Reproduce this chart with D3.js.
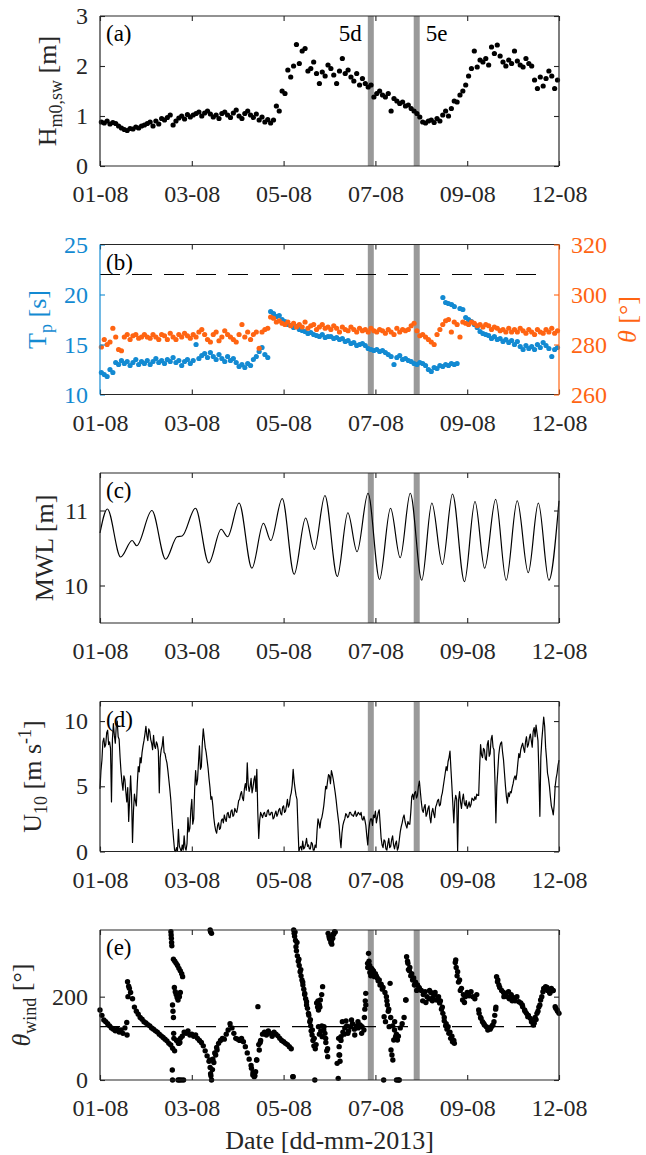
<!DOCTYPE html>
<meta charset="utf-8">
<script src="https://d3js.org/d3.v7.min.js"></script>
<style>
  body { margin: 0; background: #fff; }
  svg text { font-family: "Liberation Serif", "Times New Roman", Times, "DejaVu Serif", serif; }
</style>
<div id="chart"></div>
<script>
// x is in days after 01-08 (as labelled on the original axis)
var tickDays = [0, 2, 4, 6, 8, 10];
var tickLabels = ["01-08", "03-08", "05-08", "07-08", "09-08", "12-08"];
var eventDays = [5.9, 6.9];
var eventNames = ["5d", "5e"];
var dashedEnd = 9.72;

// (a) significant swell wave height, every 1.5 h
var hsStart = 0.03, hsStep = 1 / 16;
var hs = [
  0.88, 0.86, 0.90, 0.84, 0.87, 0.85, 0.80, 0.76, 0.73, 0.71, 0.75, 0.74, 0.78, 0.76, 0.80, 0.82,
  0.85, 0.88, 0.80, 0.90, 0.84, 0.95, 0.92, 0.97, 1.02, 0.82, 0.90, 0.96, 1.00, 0.94, 1.03, 0.98,
  1.02, 1.05, 1.08, 1.00, 1.06, 1.10, 1.04, 0.98, 1.02, 0.95, 1.05, 1.08, 1.02, 0.97, 1.06, 1.12,
  1.00, 0.95, 1.05, 1.10, 1.02, 0.97, 1.04, 0.92, 0.98, 0.88, 0.93, 0.86, 0.92, 1.20, 1.10, 1.50,
  1.45, 1.92, 1.78, 2.00, 2.43, 2.05, 2.30, 2.35, 1.90, 1.95, 2.08, 1.85, 1.65, 1.88, 1.80, 2.02,
  1.95, 1.82, 1.65, 1.90, 2.15, 1.85, 1.92, 1.78, 1.70, 1.85, 1.62, 1.75, 1.65, 1.58, 1.62, 1.38,
  1.45, 1.50, 1.42, 1.38, 1.45, 1.10, 1.35, 1.30, 1.25, 1.28, 1.20, 1.22, 1.15, 1.10, 1.05, 0.98,
  0.88, 0.86, 0.90, 0.92, 0.87, 0.95, 0.90, 1.02, 1.10, 1.00, 1.15, 1.30, 1.28, 1.42, 1.50, 1.62,
  1.80, 1.95, 2.30, 1.98, 2.12, 2.08, 2.15, 2.02, 2.38, 2.25, 2.42, 2.20, 2.08, 2.00, 2.12, 2.05,
  2.30, 2.10, 2.02, 1.98, 2.15, 2.05, 2.00, 1.72, 1.55, 1.78, 1.60, 1.75, 1.90, 1.80, 1.55, 1.72
];

// (b) peak period and mean direction, same sampling as hs
var tp = [
  12.2, 12.0, 11.8, 12.5, 12.2, 13.2, 13.0, 13.4, 13.1, 13.3, 12.9, 13.2, 13.5, 13.0, 13.3, 13.1,
  13.4, 13.0, 13.3, 13.6, 13.2, 13.4, 13.1, 13.5, 13.3, 13.7, 13.2, 13.4, 12.9, 13.3, 13.5, 13.1,
  13.4, 15.0, 13.6, 13.9, 14.1, 13.7, 14.2, 13.8, 13.5, 14.0, 13.6, 13.3, 13.8, 13.4, 13.6, 13.2,
  12.8, 13.0, 12.7, 13.1, 12.9, 13.5, 13.8, 14.3, 14.7, 14.0, 13.7, 18.3, 18.1, 17.8, 17.9, 17.5,
  17.3, 17.0, 16.9, 16.7, 16.8, 16.5, 16.4, 16.3, 16.1, 16.2, 16.0, 15.9, 15.8, 16.0, 15.7, 15.8,
  15.8, 15.6, 15.7, 15.5, 15.6, 15.3, 15.4, 15.1, 15.2, 14.9, 15.0, 15.1, 14.9, 14.6, 14.5, 14.4,
  14.5, 14.3, 14.4, 14.2, 14.0, 13.8, 13.0, 13.7, 13.9, 13.5, 13.6, 13.4, 13.3, 13.1, 13.0, 13.2,
  13.1, 12.9, 12.5, 12.3, 12.7, 12.6, 12.9, 12.8, 13.0, 12.9, 13.1, 13.0, 13.1, 18.6, 18.5, 17.7,
  17.5, 17.3, 17.0, 16.7, 16.3, 16.1, 16.0, 15.9, 15.6, 15.8, 15.5, 15.6, 15.3, 15.5, 15.2, 15.4,
  15.0, 15.3, 14.8, 14.5, 14.9, 14.6, 14.8, 14.5, 15.0, 14.7, 15.2, 14.9, 14.6, 13.8, 14.5, 14.7
];
// second (swell) branch of Tp, overlapping the low branch
var tpHiDays = [7.47, 7.53, 7.59, 7.66, 7.72];
var tpHi = [19.7, 19.2, 19.1, 19.0, 18.8];

var theta = [
  279, 282, 280, 281, 286.5, 283, 278, 277.5, 283, 284, 282, 283.5, 284, 282.5, 283, 284,
  283, 282.5, 284, 283, 282, 284, 283.5, 282, 284.5, 283, 282, 284, 283, 284.5, 283.5, 282.5,
  284, 283, 285, 286, 284, 282, 281, 284, 285, 281.5, 283, 285.5, 284, 283, 282, 281,
  284, 288, 283, 285, 282, 284, 285, 278.5, 285, 286, 286.5, 291, 290.5, 289, 289.5, 288.5,
  288, 289, 287.5, 288.5, 287, 288, 287, 289, 286.5, 287.5, 288, 286, 287, 288, 286.5, 287,
  286, 287.5, 286.5, 285, 287, 286, 285.5, 287, 286, 285, 286.5, 285.5, 286, 285, 286.5, 285.5,
  285, 286, 285.5, 284.5, 286, 285, 284, 286.5, 285, 286, 285.5, 286, 287.5, 288.5, 285.5, 283.5,
  284, 283, 282, 281, 280, 284, 286, 288, 289.5, 290, 285, 289, 288, 283, 289, 288.5,
  288, 289, 288.5, 287.5, 288, 287, 288, 287.5, 286, 287, 286.5, 285.5, 286, 285, 286.5, 285,
  286, 285, 286.5, 285.5, 284.5, 286, 285, 284, 286, 285, 284.5, 286, 285, 286.5, 284.5, 285.5
];
var tpRef = 22;

// (c) mean water level, turning points of the tide
var mwlDays = [0, 0.16, 0.45, 0.70, 0.80, 1.13, 1.43, 1.68, 1.79, 2.08, 2.37, 2.64, 2.78, 3.03, 3.31,
  3.56, 3.72, 3.97, 4.23, 4.48, 4.67, 4.90, 5.17, 5.40, 5.60, 5.84, 6.09, 6.33, 6.54, 6.76, 7.01,
  7.23, 7.46, 7.68, 7.94, 8.17, 8.38, 8.62, 8.85, 9.09, 9.33, 9.55, 9.78, 10.0];
var mwl = [10.70, 11.02, 10.38, 10.60, 10.53, 11.00, 10.35, 10.65, 10.66, 11.03, 10.30, 10.75, 10.65,
  11.10, 10.23, 10.83, 10.60, 11.16, 10.15, 10.90, 10.48, 11.20, 10.12, 10.97, 10.45, 11.23, 10.08,
  11.03, 10.37, 11.23, 10.07, 11.10, 10.28, 11.22, 10.05, 11.12, 10.23, 11.15, 10.07, 11.13, 10.17,
  11.10, 10.07, 11.13];

// (d) wind speed, every 30 min
var windStep = 1 / 24;
var uStep = 1 / 48;
var u10 = [
  4.8, 6.2, 7.0, 8.4, 8.7, 8.0, 8.2, 9.1, 9.3, 8.2, 8.4, 7.9, 3.8, 8.6, 9.8, 8.9, 8.3, 9.6, 10.0, 8.8, 8.6, 7.2, 6.1, 5.3,
  4.7, 5.8, 5.5, 4.6, 3.8, 4.9, 2.3, 4.0, 5.8, 4.2, 0.7, 3.1, 4.4, 3.9, 3.5, 5.2, 6.5, 6.1, 7.2, 6.8, 7.6, 8.1, 8.5, 9.0,
  9.6, 8.9, 8.5, 9.4, 9.2, 8.6, 8.3, 7.8, 8.9, 8.1, 7.9, 8.4, 8.2, 7.7, 4.5, 7.2, 7.8, 8.1, 8.8, 7.6, 7.5, 7.1, 6.8, 6.2,
  5.5, 4.8, 4.0, 2.9, 1.8, 0.9, 0.1, 0.0, 0.3, 0.0, 1.7, 0.4, 0.2, 0.0, 0.5, 0.1, 1.2, 0.3, 0.1, 0.6, 2.6, 1.5, 1.8, 3.2,
  4.0, 2.1, 2.5, 4.8, 6.2, 5.1, 5.5, 6.8, 8.1, 6.3, 6.5, 8.3, 9.4, 8.7, 8.0, 7.6, 7.0, 6.4, 5.6, 4.9, 4.0, 4.2, 3.5, 2.6,
  2.0, 1.6, 1.4, 2.0, 2.2, 1.7, 1.8, 2.4, 2.5, 2.2, 2.8, 2.5, 2.3, 2.9, 3.0, 2.6, 2.6, 3.1, 3.2, 2.7, 2.8, 3.3, 3.1, 3.0,
  3.4, 3.9, 4.0, 4.4, 4.6, 4.1, 3.9, 4.8, 5.2, 4.7, 6.8, 5.1, 4.6, 5.0, 5.6, 4.5, 4.9, 5.5, 5.8, 4.6, 6.3, 3.0, 1.0, 2.4,
  3.0, 2.8, 2.6, 2.9, 3.0, 2.7, 2.7, 3.1, 3.2, 2.8, 2.8, 3.0, 3.0, 2.5, 2.6, 2.9, 3.1, 2.7, 2.9, 3.2, 3.3, 2.9, 2.8, 3.4,
  3.5, 3.0, 3.1, 3.5, 4.0, 3.4, 3.6, 4.2, 4.5, 5.1, 6.3, 5.4, 4.8, 4.3, 4.0, 1.9, 0.0, 0.3, 0.4, 0.1, 0.8, 0.2, 0.3, 0.6,
  1.0, 0.4, 0.5, 0.2, 0.2, 0.7, 0.6, 0.1, 0.1, 0.5, 0.3, 1.6, 2.5, 2.2, 1.8, 2.4, 2.6, 3.0, 3.5, 4.2, 5.0, 4.8, 5.4, 5.9,
  5.8, 5.2, 6.2, 5.9, 5.5, 5.0, 4.5, 3.9, 3.2, 2.6, 2.0, 1.0, 0.3, 1.4, 2.0, 2.3, 2.5, 2.9, 2.8, 2.6, 2.7, 3.0, 3.0, 2.8,
  2.8, 2.7, 2.9, 3.1, 2.7, 2.8, 3.0, 2.9, 2.8, 3.0, 2.5, 2.4, 2.7, 2.4, 2.0, 1.2, 0.5, 1.6, 2.2, 2.5, 2.5, 2.0, 2.8, 2.6,
  3.1, 2.2, 2.6, 3.0, 3.2, 2.1, 1.0, 0.5, 0.3, 0.9, 0.8, 0.2, 0.1, 0.6, 1.0, 0.3, 0.4, 0.9, 1.2, 0.5, 0.2, 0.6, 0.8, 0.1,
  0.3, 0.9, 1.5, 1.9, 2.2, 2.6, 2.8, 2.3, 2.0, 1.8, 2.3, 2.1, 2.1, 3.0, 4.2, 4.4, 4.0, 4.5, 4.6, 4.1, 4.3, 5.0, 5.4, 4.6,
  3.8, 3.2, 3.0, 3.4, 3.6, 2.7, 2.9, 3.3, 3.5, 2.6, 2.2, 3.0, 3.3, 2.9, 2.6, 3.4, 3.6, 3.9, 4.0, 3.5, 3.6, 4.2, 4.5, 5.0,
  5.5, 6.0, 6.5, 6.2, 6.9, 7.2, 7.7, 6.3, 5.0, 3.6, 2.2, 3.8, 4.3, 4.0, 0.0, 3.9, 4.6, 3.8, 3.3, 4.0, 4.4, 3.7, 3.5, 3.9,
  3.3, 3.5, 3.8, 3.4, 3.6, 4.1, 4.0, 3.9, 4.2, 4.0, 4.4, 4.3, 4.3, 6.5, 8.2, 7.4, 7.2, 7.9, 7.8, 7.1, 7.0, 8.2, 8.5, 7.3,
  7.5, 8.6, 8.9, 8.0, 7.8, 5.5, 2.2, 5.0, 6.2, 7.4, 8.0, 8.3, 8.4, 7.6, 7.0, 6.0, 5.0, 4.2, 3.7, 4.5, 4.2, 4.6, 4.5, 4.9,
  5.2, 5.6, 5.8, 5.5, 6.0, 6.8, 7.5, 7.2, 7.8, 8.1, 8.3, 7.9, 7.6, 8.4, 8.8, 8.0, 8.2, 8.7, 9.0, 8.5, 8.0, 9.2, 9.5, 8.8,
  9.7, 9.1, 8.5, 6.0, 2.7, 7.2, 8.5, 9.4, 10.3, 9.6, 8.0, 7.1, 6.0, 5.6, 5.0, 4.2, 3.5, 3.2, 2.8, 3.6, 5.0, 5.6, 6.0, 6.6,
  7.0
];

// (e) wind direction, hourly plus the extra samples where it swings fast
var thetaWind = [
  168, 155, 144, 140, 135, 130, 125, 122, 118, 122, 115, 120, 112, 125, 138, 225, 210, 195, 175, 165, 158, 150, 146, 140,
  137, 133, 130, 125, 122, 118, 115, 110, 106, 102, 98, 94, 88, 84, 76, 70, 95, 88, 100, 105, 115, 112, 118, 108,
  110, 105, 108, 100, 95, 90, 82, 70, 58, 45, 10, 50, 65, 78, 88, 95, 100, 98, 110, 120, 135, 125, 112, 100,
  98, 95, 100, 92, 80, 65, 50, 35, 18, 10, 48, 85, 95, 110, 115, 108, 118, 112, 105, 115, 110, 106, 100, 95,
  92, 88, 85, 80, 75, 8, 355, 330, 290, 265, 235, 205, 180, 160, 145, 120, 100, 85, 190, 175, 130, 120, 100, 75,
  340, 335, 350, 355, 40, 60, 95, 115, 125, 130, 118, 128, 135, 122, 130, 125, 132, 128, 120, 180, 270, 275, 268, 262,
  255, 245, 240, 230, 222, 210, 190, 170, 150, 130, 120, 110, 105, 125, 135, 150, 192, 280, 270, 255, 245, 235, 228, 220,
  215, 205, 212, 200, 195, 210, 198, 205, 192, 200, 190, 175, 150, 135, 128, 115, 105, 95, 288, 260, 240, 220, 205, 200,
  210, 202, 212, 200, 195, 205, 168, 150, 140, 132, 128, 125, 122, 130, 140, 175, 240, 222, 215, 210, 205, 200, 195, 205,
  198, 190, 200, 188, 185, 176, 168, 160, 155, 148, 140, 136, 145, 165, 180, 200, 220, 224, 215, 212, 220, 215, 176, 168,
  160
];
var extraWindDays = [
  0.59, 0.60, 0.61, 0.64,
  1.545, 1.55, 1.555, 1.56, 1.565, 1.60, 1.63, 1.66, 1.69, 1.72, 1.75, 1.78, 1.80,
  1.62, 1.64, 1.66, 1.68, 1.70, 1.73, 1.75, 1.58, 1.59, 1.60, 1.605, 1.61,
  1.575, 1.58, 1.70, 1.73, 1.77, 1.82, 1.72, 1.74,
  2.40, 2.41, 2.43, 2.39, 2.40, 2.41, 2.43, 2.45, 2.48, 2.52, 2.55,
  3.30, 3.33, 3.36, 3.39, 3.41, 3.44, 3.47, 3.49,
  4.20, 4.22, 4.23, 4.24, 4.26, 4.27, 4.28, 4.30, 4.32, 4.34, 4.36, 4.38, 4.40, 4.42, 4.44, 4.46, 4.48,
  4.50, 4.52, 4.55, 4.57, 4.59, 4.60, 4.62, 4.64, 4.66, 4.68, 4.69, 4.72, 4.74, 4.76, 4.78, 4.80, 4.85,
  4.83, 4.76, 4.78, 4.81, 4.84, 4.88, 4.90, 4.92, 4.94, 4.96, 4.97, 4.99, 5.01, 5.03, 5.05, 5.07, 5.09, 5.11,
  5.19, 5.20, 5.21, 5.22, 5.23, 5.25, 5.28, 5.32, 5.36, 5.40, 5.48, 5.55, 5.62, 5.70,
  5.76, 5.77, 5.78, 5.79, 5.85, 5.83, 5.86, 5.88, 5.90, 5.93, 5.96, 5.98,
  6.02, 6.06, 6.10, 6.15, 6.18, 6.19, 6.22, 6.24, 6.26, 6.28, 6.30, 6.32, 6.34, 6.36, 6.38, 6.40, 6.42,
  6.44, 6.46, 6.50, 6.52, 6.48,
  6.66, 6.68, 6.70, 6.72, 6.74, 6.77, 6.81, 6.85, 6.90, 6.95,
  7.03, 7.10, 7.18, 7.24, 7.30, 7.36, 7.40, 7.44, 7.47, 7.50, 7.53, 7.56, 7.60, 7.64, 7.68, 7.72,
  7.74, 7.76, 7.78, 7.81, 7.85, 7.90, 7.94,
  8.26, 8.30, 8.36, 8.45, 8.52, 8.56, 8.60, 8.62, 8.64, 8.66, 8.69, 8.80, 8.90, 8.98,
  9.20, 9.26, 9.32, 9.40, 9.44, 9.45, 9.48, 9.52, 9.56, 9.60, 9.65, 9.74, 9.80, 9.86, 9.93, 9.97
];
var extraWind = [
  108, 236, 200, 220,
  356, 348, 340, 330, 322, 290, 285, 280, 275, 268, 262, 255, 248,
  222, 212, 205, 198, 192, 200, 210, 180, 165, 150, 112, 100,
  24, 0, 0, 0, 0, 0, 88, 90,
  360, 356, 352, 48, 30, 15, 0, 25, 42, 60, 72,
  28, 12, 8, 20, 48, 176, 72, 90,
  8, 360, 352, 345, 335, 320, 310, 298, 285, 275, 260, 250, 240, 228, 218, 208, 195,
  188, 172, 155, 140, 130, 118, 108, 95, 82, 0, 75, 185, 175, 168, 180, 192, 224,
  205, 128, 110, 118, 104, 128, 112, 90, 70, 56, 352, 345, 338, 330, 326, 340, 350, 356,
  4, 100, 80, 60, 45, 104, 140, 110, 142, 112, 144, 108, 140, 112,
  150, 170, 190, 208, 304, 280, 285, 258, 250, 265, 255, 248,
  250, 238, 228, 218, 0, 152, 140, 200, 180, 165, 128, 232, 72, 60, 48, 96, 140,
  104, 0, 0, 0, 96,
  192, 296, 285, 265, 262, 250, 240, 228, 215, 222,
  190, 186, 215, 190, 210, 195, 185, 170, 160, 142, 130, 122, 112, 100, 92, 88,
  282, 270, 250, 235, 215, 192, 186,
  160, 148, 136, 120, 126, 132, 155, 170, 248, 236, 228, 200, 212, 190,
  180, 165, 152, 140, 132, 138, 150, 160, 175, 192, 212, 222, 208, 214, 172, 165
];
var windRef = 128;

// ---------------------------------------------------------------
var W = 646, H = 1155;
var left = 100, right = 559, ph = 150;
var tops = [16, 244.5, 473, 701.5, 930];
var ink = "#262626", blue = "#138ad2", orange = "#ff6412", gray = "#999999";
var serif = '"Liberation Serif", "Times New Roman", Times, "DejaVu Serif", serif';

var svg = d3.select("#chart").append("svg").attr("width", W).attr("height", H);
var x = d3.scaleLinear().domain([0, 10]).range([left, right]);

function styleAxis(sel, color, keepText) {
  sel.attr("font-family", null);
  sel.select(".domain").remove();
  sel.selectAll(".tick line").attr("stroke", color).attr("stroke-width", 1.1);
  if (keepText) {
    sel.selectAll(".tick text").attr("fill", color).attr("font-size", 24).style("font-family", serif);
  } else {
    sel.selectAll(".tick text").remove();
  }
}

function yLabel(xPos, cy, parts, color) {
  var t = svg.append("text")
    .attr("transform", "translate(" + xPos + "," + cy + ") rotate(-90)")
    .attr("text-anchor", "middle")
    .style("font-family", serif)
    .attr("font-size", 26)
    .attr("fill", color)
    .style("white-space", "pre");
  var cur = 0;
  parts.forEach(function (p) {
    var shift = p.sub ? 6 : (p.sup ? -10 : 0);
    t.append("tspan")
      .attr("dy", shift - cur)
      .attr("font-size", (p.sub || p.sup) ? 18 : 26)
      .attr("font-style", p.it ? "italic" : null)
      .text(p.s);
    cur = shift;
  });
}

var fmt = d3.format("d");

// build one panel frame; returns layers and y scale
function panel(k, domain, ticks, name, leftColor, rightColor) {
  var top = tops[k], bottom = top + ph;
  var y = d3.scaleLinear().domain(domain).range([bottom, top]);
  var g = svg.append("g");

  g.selectAll("rect.event").data(eventDays).join("rect")
    .attr("class", "event")
    .attr("x", function (d) { return x(d) - 3; })
    .attr("width", 6)
    .attr("y", top)
    .attr("height", ph)
    .attr("fill", gray);

  var marks = g.append("g");
  var frame = g.append("g");

  frame.append("g").attr("transform", "translate(0," + bottom + ")")
    .call(d3.axisBottom(x).tickValues(tickDays).tickFormat(function (d, i) { return tickLabels[i]; })
      .tickSizeInner(-5).tickSizeOuter(0).tickPadding(19))
    .call(styleAxis, ink, true);
  frame.append("g").attr("transform", "translate(0," + top + ")")
    .call(d3.axisTop(x).tickValues(tickDays).tickSizeInner(-5).tickSizeOuter(0))
    .call(styleAxis, ink, false);
  frame.append("g").attr("transform", "translate(" + left + ",0)")
    .call(d3.axisLeft(y).tickValues(ticks).tickFormat(fmt).tickSizeInner(-5).tickSizeOuter(0).tickPadding(12))
    .call(styleAxis, leftColor, true);
  if (!rightColor) {
    frame.append("g").attr("transform", "translate(" + right + ",0)")
      .call(d3.axisRight(y).tickValues(ticks).tickSizeInner(-5).tickSizeOuter(0))
      .call(styleAxis, ink, false);
  }

  frame.append("line").attr("x1", left).attr("x2", right).attr("y1", top).attr("y2", top)
    .attr("stroke", ink).attr("stroke-width", 1.2);
  frame.append("line").attr("x1", left).attr("x2", right).attr("y1", bottom).attr("y2", bottom)
    .attr("stroke", ink).attr("stroke-width", 1.2);
  frame.append("line").attr("x1", left).attr("x2", left).attr("y1", top).attr("y2", bottom)
    .attr("stroke", leftColor).attr("stroke-width", 1.2);
  frame.append("line").attr("x1", right).attr("x2", right).attr("y1", top).attr("y2", bottom)
    .attr("stroke", rightColor || ink).attr("stroke-width", 1.2);

  frame.append("text")
    .attr("x", left + 6).attr("y", top + 25)
    .style("font-family", serif).attr("font-size", 23).attr("fill", "#000")
    .text(name);

  return { y: y, marks: marks, frame: frame, top: top, bottom: bottom };
}

function dots(layer, xs, ys, color, r) {
  layer.append("g").selectAll("circle").data(d3.zip(xs, ys)).join("circle")
    .attr("cx", function (d) { return x(d[0]); })
    .attr("cy", function (d) { return d[1]; })
    .attr("r", r)
    .attr("fill", color);
}

function dashed(layer, y, value) {
  layer.append("line")
    .attr("x1", x(0)).attr("x2", x(dashedEnd))
    .attr("y1", y(value)).attr("y2", y(value))
    .attr("stroke", "#000").attr("stroke-width", 1.1)
    .attr("stroke-dasharray", "20,12");
}

var hsDays = hs.map(function (d, i) { return hsStart + i * hsStep; });

// (a)
var pa = panel(0, [0, 3], [0, 1, 2, 3], "(a)", ink);
dots(pa.marks, hsDays, hs.map(pa.y), "#000", 2.6);
pa.frame.append("g").selectAll("text").data(eventDays).join("text")
  .attr("x", function (d, i) { return i === 0 ? x(d) - 9 : x(d) + 9; })
  .attr("y", pa.top + 25)
  .attr("text-anchor", function (d, i) { return i === 0 ? "end" : "start"; })
  .style("font-family", serif).attr("font-size", 23).attr("fill", "#000")
  .text(function (d, i) { return eventNames[i]; });

// (b)
var pb = panel(1, [10, 25], [10, 15, 20, 25], "(b)", blue, orange);
var y2 = d3.scaleLinear().domain([260, 320]).range([pb.bottom, pb.top]);
dots(pb.marks, hsDays, tp.map(pb.y), blue, 2.6);
dots(pb.marks, tpHiDays, tpHi.map(pb.y), blue, 2.6);
dots(pb.marks, hsDays, theta.map(y2), orange, 2.6);
dashed(pb.marks, pb.y, tpRef);
pb.frame.append("g").attr("transform", "translate(" + right + ",0)")
  .call(d3.axisRight(y2).tickValues([260, 280, 300, 320]).tickFormat(fmt).tickSizeInner(-5).tickSizeOuter(0).tickPadding(12))
  .call(styleAxis, orange, true);

// (c)
var pc = panel(2, [9.5, 11.5], [10, 11], "(c)", ink);
pc.marks.append("path")
  .datum(d3.zip(mwlDays, mwl))
  .attr("fill", "none").attr("stroke", "#000").attr("stroke-width", 1.2)
  .attr("d", d3.line().x(function (d) { return x(d[0]); }).y(function (d) { return pc.y(d[1]); })
    .curve(d3.curveMonotoneX));

// (d)
var pd = panel(3, [0, 11.5], [0, 5, 10], "(d)", ink);
pd.marks.append("path")
  .datum(u10.map(function (v, i) { return [i * uStep, v]; }))
  .attr("fill", "none").attr("stroke", "#000").attr("stroke-width", 1.2)
  .attr("stroke-linejoin", "round")
  .attr("d", d3.line().x(function (d) { return x(d[0]); }).y(function (d) { return pd.y(d[1]); }));

// (e)
var pe = panel(4, [0, 360], [0, 200], "(e)", ink);
dashed(pe.marks, pe.y, windRef);
dots(pe.marks, thetaWind.map(function (v, i) { return i * windStep; }), thetaWind.map(pe.y), "#000", 2.7);
dots(pe.marks, extraWindDays, extraWind.map(pe.y), "#000", 2.7);

// axis labels
function mid(p) { return (p.top + p.bottom) / 2; }
yLabel(56, mid(pa), [{ s: "H" }, { s: "m0,sw", sub: true }, { s: " [m]" }], ink);
yLabel(46, mid(pb), [{ s: "T" }, { s: "p", sub: true }, { s: " [s]" }], blue);
yLabel(636, mid(pb), [{ s: "θ", it: true }, { s: " [°]" }], orange);
yLabel(53, mid(pc), [{ s: "MWL [m]" }], ink);
yLabel(41, mid(pd), [{ s: "U" }, { s: "10", sub: true }, { s: " [m s" }, { s: "-1", sup: true }, { s: "]" }], ink);
yLabel(30, mid(pe), [{ s: "θ", it: true }, { s: "wind", sub: true }, { s: " [°]" }], ink);

svg.append("text")
  .attr("x", (left + right) / 2).attr("y", 1149)
  .attr("text-anchor", "middle")
  .style("font-family", serif).attr("font-size", 26).attr("fill", ink)
  .text("Date [dd-mm-2013]");
</script>
